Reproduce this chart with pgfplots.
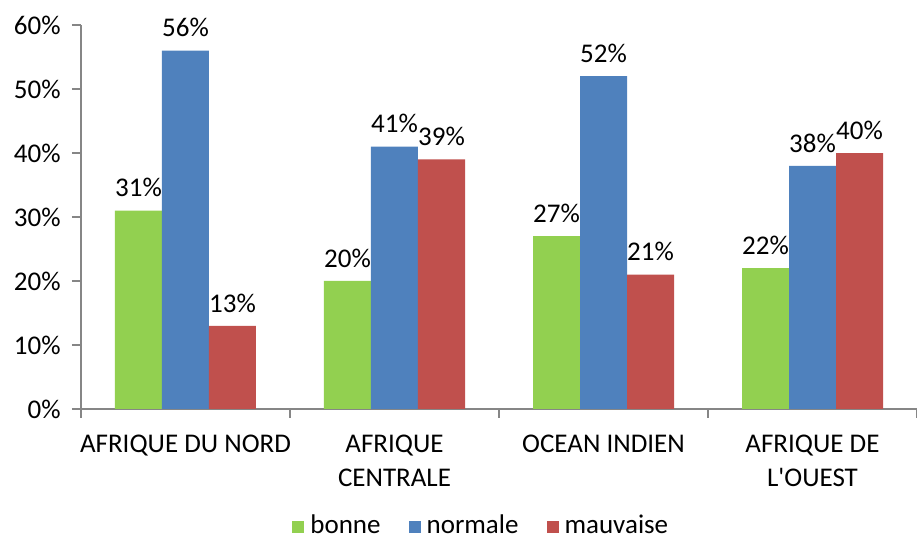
\documentclass[border=0pt]{standalone}
\usepackage{fontspec}
\setmainfont{Carlito}
\usepackage{pgfplots}
\pgfplotsset{compat=1.18}
\definecolor{cgreen}{HTML}{92D050}
\definecolor{cblue}{HTML}{4F81BD}
\definecolor{cred}{HTML}{C0504D}
\definecolor{caxis}{HTML}{868686}
\begin{document}
\fontsize{13.5}{17}\selectfont
\begin{tikzpicture}
\begin{axis}[
  scale only axis,
  width=418pt, height=192pt,
  at={(0,0)}, anchor=south west,
  xmin=-0.5, xmax=3.5, ymin=0, ymax=60,
  axis x line*=bottom, axis y line*=left,
  axis line style={caxis, line width=0.8pt},
  ybar=0pt, bar width=23.5pt,
  xtick={0,1,2,3},
  xticklabels={AFRIQUE DU NORD,{AFRIQUE\\CENTRALE},OCEAN INDIEN,{AFRIQUE DE\\L\textquotesingle OUEST}},
  x tick label style={align=center, font=\fontsize{13.5}{17}\selectfont, yshift=-4pt},
  major x tick style={draw=none},
  minor xtick={-0.5,0.5,1.5,2.5,3.5},
  minor x tick style={caxis, line width=0.8pt},
  minor tick length=4.5pt,
  xtick pos=bottom, ytick pos=left,
  tick align=outside,
  ytick={0,10,...,60},
  yticklabel={\pgfmathprintnumber{\tick}\%},
  y tick label style={font=\fontsize{13.5}{15}\selectfont, xshift=-1pt},
  major y tick style={caxis, line width=0.8pt},
  major tick length=4.5pt,
  /pgf/number format/assume math mode=true,
  nodes near coords={\pgfmathprintnumber{\pgfplotspointmeta}\%},
  nodes near coords style={font=\fontsize{13.5}{15}\selectfont, black, yshift=2pt},
  legend style={draw=none, at={(0.48,-0.305)}, anchor=center, legend columns=-1,
    font=\fontsize{13.5}{15}\selectfont, inner sep=1pt,
    /tikz/every odd column/.append style={column sep=1pt},
    /tikz/every even column/.append style={column sep=12pt}},
  legend image code/.code={\fill[#1] (0pt,-3.2pt) rectangle (6pt,2.8pt);},
  clip=false,
]
\addplot[fill=cgreen, draw=none] coordinates {(0,31) (1,20) (2,27) (3,22)};
\addplot[fill=cblue, draw=none] coordinates {(0,56) (1,41) (2,52) (3,38)};
\addplot[fill=cred, draw=none] coordinates {(0,13) (1,39) (2,21) (3,40)};
\legend{bonne,normale,mauvaise}
\end{axis}
\pgfresetboundingbox
\useasboundingbox (-40.5pt,-65.5pt) rectangle (418pt,204.5pt);
\end{tikzpicture}
\end{document}
